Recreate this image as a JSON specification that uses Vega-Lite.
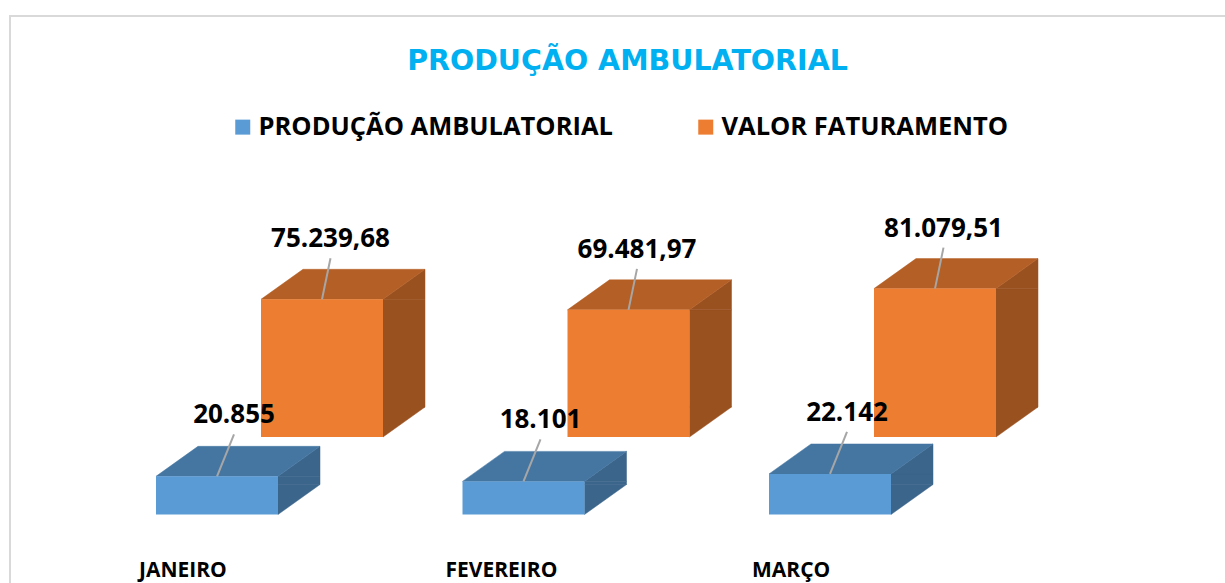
{
  "$schema": "https://vega.github.io/schema/vega-lite/v6.json",
  "width": 1215,
  "height": 567,
  "autosize": "none",
  "padding": {"left": 10, "top": 16, "right": 0, "bottom": 0},
  "background": "white",
  "title": {
    "text": "PRODUÇÃO AMBULATORIAL",
    "color": "#00B0F0",
    "font": "DejaVu Sans",
    "fontSize": 28.5,
    "fontWeight": "bold",
    "anchor": "middle",
    "frame": "group",
    "baseline": "alphabetic",
    "offset": -82,
    "dx": 10
  },
  "config": {
    "locale": {"number": {"decimal": ",", "thousands": ".", "grouping": [3], "currency": ["R$ ", ""]}},
    "view": {"stroke": "#D9D9D9", "strokeWidth": 2, "strokeDash": [1215, 1782, 567]},
    "legend": {
      "orient": "none",
      "legendX": 220,
      "legendY": 98,
      "direction": "horizontal",
      "title": null,
      "symbolType": "square",
      "symbolSize": 225,
      "symbolStrokeWidth": 0,
      "labelFont": "Open Sans",
      "labelFontSize": 25.5,
      "labelFontWeight": "bold",
      "labelColor": "#000000",
      "labelOffset": 3,
      "columnPadding": 80,
      "labelLimit": 600
    }
  },
  "data": {
    "values": [
      {"mes": "JANEIRO", "serie": "PRODUÇÃO AMBULATORIAL", "valor": 20855},
      {"mes": "JANEIRO", "serie": "VALOR FATURAMENTO", "valor": 75239.68},
      {"mes": "FEVEREIRO", "serie": "PRODUÇÃO AMBULATORIAL", "valor": 18101},
      {"mes": "FEVEREIRO", "serie": "VALOR FATURAMENTO", "valor": 69481.97},
      {"mes": "MARÇO", "serie": "PRODUÇÃO AMBULATORIAL", "valor": 22142},
      {"mes": "MARÇO", "serie": "VALOR FATURAMENTO", "valor": 81079.51}
    ]
  },
  "encoding": {
    "x": {"field": "mes", "type": "nominal", "axis": null, "sort": null,
          "scale": {"domain": ["JANEIRO", "FEVEREIRO", "MARÇO"], "range": [53.75, 973.25], "paddingInner": 0, "paddingOuter": 0}}
  },
  "layer": [
    {
      "transform": [{"filter": "datum.serie === 'VALOR FATURAMENTO'"}],
      "layer": [
        {"mark": {"type": "bar", "width": 42, "xOffset": 187, "yOffset": -77.5, "y2Offset": -107.5, "color": "#9A5120", "stroke": "#9A5120", "strokeWidth": 0.5},
         "encoding": {"y": {"field": "valor", "type": "quantitative", "axis": null, "scale": {"domain": [0, 100000], "range": [498.5, 315.5], "nice": false, "zero": true}}, "y2": {"datum": 0}}},
        {"mark": {"type": "point", "shape": "M61,0L103,-30L103,0Z", "size": 4, "filled": true, "opacity": 1, "color": "#9A5120", "stroke": "#9A5120", "strokeWidth": 0.5, "xOffset": 105, "yOffset": -77.5},
         "encoding": {"y": {"field": "valor", "type": "quantitative"}}},
        {"mark": {"type": "point", "shape": "M61,-30L61,0L103,-30Z", "size": 4, "filled": true, "opacity": 1, "color": "#9A5120", "stroke": "#9A5120", "strokeWidth": 0.5, "xOffset": 105, "yOffset": -77.5},
         "encoding": {"y": {"datum": 0, "type": "quantitative"}}},
        {"mark": {"type": "point", "shape": "M-61,0L61,0L103,-30L-19,-30Z", "size": 4, "filled": true, "opacity": 1, "color": "#B45F25", "stroke": "#B45F25", "strokeWidth": 0.5, "xOffset": 105, "yOffset": -77.5},
         "encoding": {"y": {"field": "valor", "type": "quantitative"}}},
        {"mark": {"type": "bar", "width": 122, "xOffset": 105, "yOffset": -77.5, "y2Offset": -77.5, "opacity": 1},
         "encoding": {"y": {"field": "valor", "type": "quantitative"}, "y2": {"datum": 0},
                      "color": {"field": "serie", "type": "nominal", "scale": {"domain": ["PRODUÇÃO AMBULATORIAL", "VALOR FATURAMENTO"], "range": ["#5B9BD5", "#ED7D31"]}}}},
        {"mark": {"type": "rule", "color": "#A6A6A6", "strokeWidth": 2, "xOffset": 105, "x2Offset": 113.5, "yOffset": -77.5, "y2Offset": -118.5},
         "encoding": {"x2": {"field": "mes"}, "y": {"field": "valor", "type": "quantitative"}, "y2": {"field": "valor"}}},
        {"mark": {"type": "text", "font": "Open Sans", "fontSize": 26, "fontWeight": "bold", "color": "#000000", "align": "center", "baseline": "alphabetic", "dx": 113.5, "dy": -129.5},
         "encoding": {"y": {"field": "valor", "type": "quantitative"}, "text": {"field": "valor", "type": "quantitative", "format": ",.2f"}}}
      ]
    },
    {
      "transform": [{"filter": "datum.serie === 'PRODUÇÃO AMBULATORIAL'"}],
      "layer": [
        {"mark": {"type": "bar", "width": 42, "xOffset": 82, "yOffset": 0, "y2Offset": -30, "color": "#3B658A", "stroke": "#3B658A", "strokeWidth": 0.5},
         "encoding": {"y": {"field": "valor", "type": "quantitative"}, "y2": {"datum": 0}}},
        {"mark": {"type": "point", "shape": "M61,0L103,-30L103,0Z", "size": 4, "filled": true, "opacity": 1, "color": "#3B658A", "stroke": "#3B658A", "strokeWidth": 0.5},
         "encoding": {"y": {"field": "valor", "type": "quantitative"}}},
        {"mark": {"type": "point", "shape": "M61,-30L61,0L103,-30Z", "size": 4, "filled": true, "opacity": 1, "color": "#3B658A", "stroke": "#3B658A", "strokeWidth": 0.5},
         "encoding": {"y": {"datum": 0, "type": "quantitative"}}},
        {"mark": {"type": "point", "shape": "M-61,0L61,0L103,-30L-19,-30Z", "size": 4, "filled": true, "opacity": 1, "color": "#4576A2", "stroke": "#4576A2", "strokeWidth": 0.5},
         "encoding": {"y": {"field": "valor", "type": "quantitative"}}},
        {"mark": {"type": "bar", "width": 122, "opacity": 1},
         "encoding": {"y": {"field": "valor", "type": "quantitative"}, "y2": {"datum": 0},
                      "color": {"field": "serie", "type": "nominal"}}},
        {"mark": {"type": "rule", "color": "#A6A6A6", "strokeWidth": 2, "x2Offset": 17, "y2Offset": -42},
         "encoding": {"x2": {"field": "mes"}, "y": {"field": "valor", "type": "quantitative"}, "y2": {"field": "valor"}}},
        {"mark": {"type": "text", "font": "Open Sans", "fontSize": 26, "fontWeight": "bold", "color": "#000000", "align": "center", "baseline": "alphabetic", "dx": 17, "dy": -53},
         "encoding": {"y": {"field": "valor", "type": "quantitative"}, "text": {"field": "valor", "type": "quantitative", "format": ",.0f"}}},
        {"mark": {"type": "text", "font": "Open Sans", "fontSize": 21, "fontWeight": "bold", "color": "#000000", "align": "left", "baseline": "alphabetic", "dx": -78, "dy": 62.5},
         "encoding": {"y": {"datum": 0, "type": "quantitative"}, "text": {"field": "mes", "type": "nominal"}}}
      ]
    }
  ]
}
